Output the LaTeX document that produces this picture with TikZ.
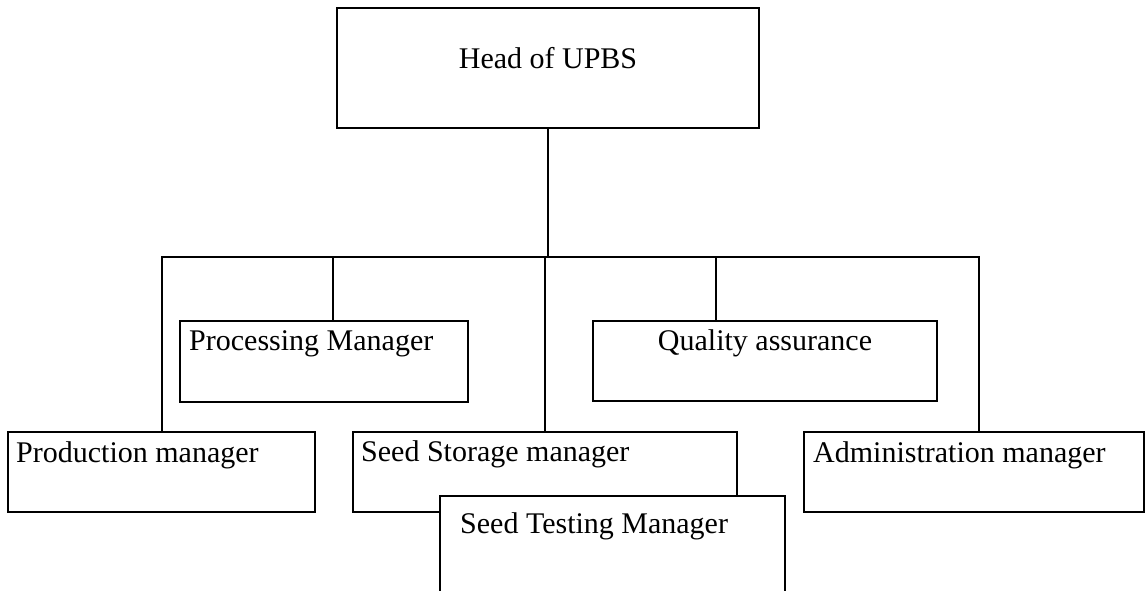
\documentclass[tikz,border=0pt]{standalone}
\usepackage{fontspec}
\setmainfont{Liberation Serif}
\begin{document}
\begin{tikzpicture}[x=1pt,y=-1pt,
  box/.style={draw, line width=2pt, fill=white, inner sep=0pt, outer sep=0pt, anchor=north west},
  lbl/.style={inner sep=0pt, font=\fontsize{30}{33}\selectfont},
  link/.style={line width=2pt, line cap=rect}]
\useasboundingbox (0,0) rectangle (1145,591);
\fill[white] (0,0) rectangle (1145,591);

% boxes of the chart
\node[box, minimum width=422pt, minimum height=120pt] (head)  at (337,8)   {};
\node[box, minimum width=288pt, minimum height=81pt]  (proc)  at (180,321) {};
\node[box, minimum width=344pt, minimum height=80pt]  (qa)    at (593,321) {};
\node[box, minimum width=307pt, minimum height=80pt]  (prod)  at (8,432)   {};
\node[box, minimum width=384pt, minimum height=80pt]  (store) at (353,432) {};
\node[box, minimum width=340pt, minimum height=80pt]  (admin) at (804,432) {};
\node[box, minimum width=345pt, minimum height=130pt] (test)  at (440,496) {};

% connector bar and drops
\coordinate (bl) at (162,257);
\coordinate (br) at (979,257);
\coordinate (dproc) at (333,257);
\coordinate (dstore) at (545,257);
\coordinate (dqa) at (716,257);
\draw[link] (head.south) -- (head.south |- bl);
\draw[link] (bl |- prod.north) -- (bl) -- (br) -- (br |- admin.north);
\draw[link] (dproc) -- (dproc |- proc.north);
\draw[link] (dstore) -- (dstore |- store.north);
\draw[link] (dqa) -- (dqa |- qa.north);

% labels
\node[lbl, anchor=base] (headtxt) at (548,69) {Head of UPBS};
\node[lbl, anchor=base west] (proctxt) at (189,350) {Processing Manager};
\node[lbl, anchor=base] (qatxt) at (765,350) {Quality assurance};
\node[lbl, anchor=base west] (prodtxt) at (16,462) {Production manager};
\node[lbl, anchor=base west] (storetxt) at (361,461) {Seed Storage manager};
\node[lbl, anchor=base west] (admintxt) at (813,462) {Administration manager};
\node[lbl, anchor=base west] (testtxt) at (460,533) {Seed Testing Manager};
\end{tikzpicture}
\end{document}
